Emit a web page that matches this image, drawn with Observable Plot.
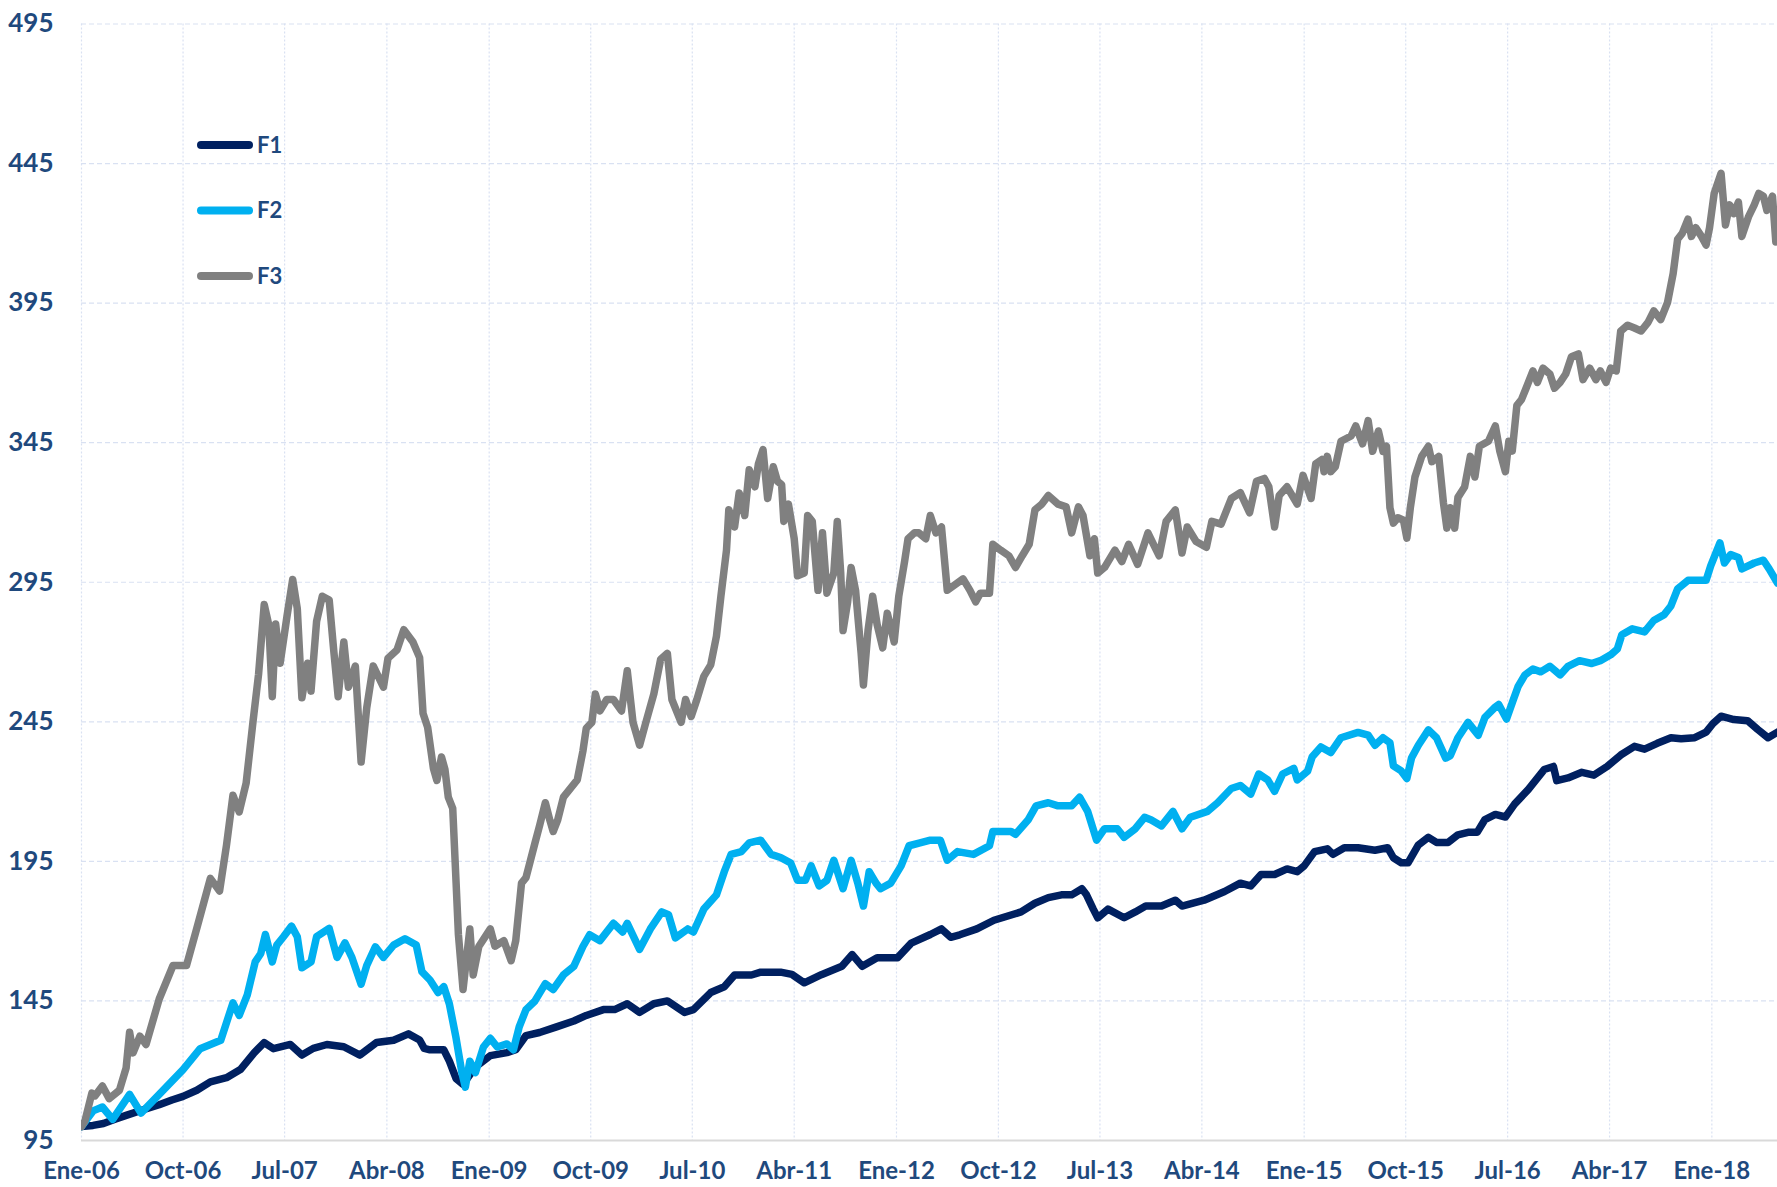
<!DOCTYPE html>
<html><head><meta charset="utf-8">
<script src="https://cdn.jsdelivr.net/npm/d3@7"></script>
<script src="https://cdn.jsdelivr.net/npm/@observablehq/plot@0.6"></script>
<style>
html,body{margin:0;padding:0;background:#fff;}
#chart{position:relative;width:1777px;height:1187px;overflow:hidden;}
</style></head><body><div id="chart"></div>
<script>
const seriesNames = ["F1", "F2", "F3"];
const seriesColors = ["#002060", "#00B0F0", "#808080"];
const xTickLabels = ["Ene-06","Oct-06","Jul-07","Abr-08","Ene-09","Oct-09","Jul-10","Abr-11","Ene-12","Oct-12","Jul-13","Abr-14","Ene-15","Oct-15","Jul-16","Abr-17","Ene-18"];
const yTicks = [95, 145, 195, 245, 295, 345, 395, 445, 495];

// [months since Jan 2006, value]
const f1Points = [[0,100],[1,100.4],[2,101.1],[3,102.6],[4,104],[5.5,106],[6.9,107.8],[8,109.5],[9,110.8],[10.2,113],[11.4,116],[12.8,117.5],[14.1,120.4],[15.3,126.4],[16.2,130.1],[17,127.9],[18.5,129.4],[19.5,125.6],[20.5,128],[21.7,129.4],[23.2,128.6],[24.6,125.6],[26.1,130.1],[27.6,130.9],[28.9,133.2],[29.9,131],[30.3,128],[30.8,127.5],[32,127.5],[32.5,123.4],[33.1,117.2],[33.7,115.1],[34.8,121.3],[36.1,125.4],[37.6,126.5],[38.4,127.5],[39.3,132.6],[40.5,133.7],[42,135.7],[43.5,137.8],[44.6,139.8],[46.1,141.9],[47.1,141.9],[48.2,144],[49.3,140.9],[50.6,144],[51.8,145],[53.3,140.9],[54.1,141.9],[55.6,148],[56.8,150.1],[57.7,154.3],[59.2,154.3],[60,155.3],[61.8,155.3],[62.8,154.5],[63.9,151.5],[65.4,154.4],[67.2,157.4],[68.1,161.6],[69,157.4],[70.3,160.5],[72.1,160.5],[73.3,165.7],[75,168.8],[76,170.8],[76.8,167.8],[77.6,168.7],[79.1,170.8],[80.6,173.9],[83,176.9],[84.2,180],[85.4,182],[86.6,183],[87.5,183],[88.4,185.2],[88.8,183],[89.4,177.9],[89.8,174.8],[90.7,177.9],[92.1,174.8],[93.1,176.9],[94,179],[95.4,179],[96.6,181.1],[97.2,179],[99.2,181.1],[101,184.2],[102.4,187.2],[103.3,186.2],[104.2,190.3],[105.4,190.3],[106.5,192.3],[107.4,191.3],[108,193.4],[108.9,198.5],[110.1,199.5],[110.6,197.5],[111.6,199.9],[112.8,199.9],[114.3,199],[115.4,199.9],[115.9,196.3],[116.6,194.5],[117.2,194.5],[118.1,200.9],[119,203.6],[119.7,201.8],[120.7,201.8],[121.6,204.5],[122.5,205.4],[123.3,205.4],[124,210],[124.9,211.8],[125.8,210.9],[126.6,215.5],[127.8,220.8],[129.2,227.9],[130,229],[130.3,223.9],[131.3,224.9],[132.5,226.9],[133.6,225.9],[134.8,229],[136,233.1],[137.2,236.2],[138.1,235.2],[139.2,237.3],[140.4,239.3],[141.3,238.9],[142.5,239.3],[143.5,241.3],[144.1,244.4],[144.8,247],[146,245.8],[147.2,245.4],[148.1,242.3],[149,239.3],[149.85,241.3]];

const f2Points = [[0,100],[1.0,105.6],[1.9,107],[2.8,102.6],[4.3,111.5],[5.3,104.8],[6.9,111.5],[9.0,120.4],[10.5,127.9],[12.3,130.9],[13.4,144.3],[14.0,139.8],[14.7,147.2],[15.4,159],[15.9,162],[16.3,168.8],[16.9,159],[17.3,165],[17.9,168],[18.6,171.8],[19.1,168],[19.5,156.9],[20.3,159],[20.8,168],[21.9,171],[22.6,160.6],[23.3,165.8],[23.9,160.6],[24.7,151],[25.2,157.7],[26.0,164.4],[26.7,160.6],[27.6,165],[28.6,167.3],[29.6,165],[30.1,155.5],[30.8,152.5],[31.5,148],[32.0,150.1],[32.5,143.9],[33.1,131.6],[33.6,119.3],[33.9,114.1],[34.3,123.4],[34.8,119.3],[35.5,128.5],[36.1,131.6],[36.7,128.5],[37.6,129.6],[38.2,127.5],[38.7,135.7],[39.3,141.9],[40.1,145],[41.0,151.2],[41.7,149.1],[42.6,154.3],[43.5,157.4],[44.3,164.5],[44.9,168.7],[45.8,166.6],[47.0,172.8],[47.8,169.7],[48.2,172.8],[49.3,163.5],[50.3,170.8],[51.3,176.9],[51.9,175.9],[52.5,167.6],[53.6,170.8],[54.1,169.7],[55.0,177.9],[56.1,183],[56.8,191.3],[57.4,197.5],[58.3,198.5],[59.0,201.6],[60.0,202.6],[60.9,197.5],[61.8,196.4],[62.7,194.4],[63.3,188.2],[64.0,188.2],[64.5,193.4],[65.2,186.2],[65.9,188.2],[66.5,195.4],[67.3,185.2],[68.0,195.4],[68.6,187.2],[69.1,179],[69.6,191.3],[70.2,187.2],[70.6,185.2],[71.5,187.2],[72.4,193.4],[73.1,200.6],[74.1,201.6],[75.0,202.6],[75.9,202.6],[76.5,195.4],[77.4,198.5],[78.8,197.5],[80.2,200.6],[80.5,205.7],[82.1,205.7],[82.5,204.7],[83.6,209.8],[84.3,214.9],[85.4,216],[86.3,214.9],[87.5,214.9],[88.2,218],[88.9,212.9],[89.7,202.6],[90.4,206.7],[91.5,206.7],[92.1,203.6],[93.1,206.7],[93.9,210.8],[94.5,209.8],[95.4,207.7],[96.4,212.9],[97.2,206.7],[98.0,210.8],[99.5,212.9],[100.4,216],[101.6,221.1],[102.4,222.2],[103.3,219.1],[104.0,226.3],[104.8,224.2],[105.4,220.1],[106.1,226.3],[107.1,228.3],[107.4,224.2],[108.3,227.3],[108.7,232.5],[109.5,236],[110.4,234],[111.3,239.3],[112.8,241.2],[113.7,240.2],[114.3,236.6],[115.0,239.3],[115.6,237.5],[115.9,229.2],[116.6,227.4],[117.1,224.7],[117.5,232],[118.1,236.6],[119.0,242.1],[119.7,239.3],[120.5,232],[120.9,232.9],[121.6,239.3],[122.5,244.8],[123.4,240.2],[124.0,246.6],[124.9,250.3],[125.2,251.2],[125.9,246],[126.5,253],[126.9,257.6],[127.5,261.8],[128.2,263.9],[128.9,262.9],[129.7,264.9],[130.6,261.8],[131.3,264.9],[132.3,266.9],[133.4,265.9],[134.2,266.9],[135.1,269],[135.7,271.1],[136.1,276.2],[137.0,278.3],[138.1,277.2],[138.9,281.3],[139.8,283.4],[140.4,286.5],[141.0,292.6],[141.9,295.7],[142.8,295.7],[143.5,295.7],[143.9,300.9],[144.7,309.1],[145.1,301.9],[145.7,304.9],[146.4,303.9],[146.7,299.8],[147.8,301.9],[148.6,302.9],[149.1,299.8],[149.85,294.7]];

const f3Points = [[0,100],[0.3,102],[0.9,112],[1.2,111],[1.9,114.5],[2.5,110],[3.4,113],[4.0,121],[4.3,133.8],[4.6,126.4],[5.2,132.4],[5.75,129.4],[6.9,145.7],[8.1,157.7],[9.3,157.7],[10.2,171],[11.4,188.9],[12.2,184.4],[12.8,200.8],[13.4,218.7],[14.0,212.7],[14.6,223],[15.2,245],[15.7,262],[16.2,287],[16.6,279.7],[16.9,254],[17.2,280],[17.6,266],[18.2,282.6],[18.7,296],[19.1,285.6],[19.5,253.6],[20.0,266],[20.3,256],[20.8,281],[21.3,290],[21.9,288.6],[22.3,270.7],[22.7,254],[23.2,273.6],[23.6,257.4],[24.2,265],[24.7,230.6],[25.2,250],[25.8,265],[26.7,257.4],[27.1,267.8],[27.9,270.7],[28.5,278],[29.3,273.6],[29.9,268],[30.2,248],[30.6,243],[31.1,228.3],[31.4,224],[31.8,232.4],[32.1,228],[32.4,218],[32.8,214],[33.1,187.2],[33.3,168.7],[33.7,149.1],[34.3,170.8],[34.6,154.3],[35.1,164.5],[36.1,170.8],[36.5,164.6],[37.3,166.6],[38.0,159.4],[38.4,166.6],[38.9,187.2],[39.3,189.2],[40.1,201.6],[40.5,207.8],[41.0,216],[41.4,209.8],[41.7,205.7],[42.1,209.8],[42.6,218],[43.0,220.1],[43.8,224.2],[44.3,234.5],[44.6,242.7],[45.1,244.8],[45.4,255],[45.8,248.9],[46.4,253],[47.0,253],[47.7,248.9],[48.2,263.3],[48.7,244.8],[49.3,236.6],[49.9,244.8],[50.6,255],[51.2,267.4],[51.8,269.5],[52.2,253],[53.0,244.8],[53.4,253],[53.9,246.9],[54.4,253],[55.0,261.3],[55.6,265.4],[56.1,275.7],[56.5,290],[57.0,306.5],[57.2,321],[57.7,314.8],[58.1,327],[58.6,318.9],[59.0,335.3],[59.5,329.2],[59.8,337.4],[60.2,342.5],[60.6,325],[61.1,336.4],[61.5,331.2],[61.9,330],[62.1,316.8],[62.5,323],[63.0,310.6],[63.3,297.3],[63.9,298.3],[64.2,318.9],[64.6,316.8],[65.1,292.1],[65.5,312.7],[65.9,291.1],[66.5,298.3],[66.8,316.8],[67.1,298.3],[67.3,277.7],[67.7,288],[68.0,300.3],[68.4,292.1],[68.9,269.5],[69.1,258.2],[69.5,277.7],[69.9,290],[70.3,279.8],[70.8,271.5],[71.2,283.9],[71.8,273.6],[72.2,290],[72.7,302.4],[73.0,310.6],[73.6,312.7],[74.0,312.7],[74.6,310.6],[75.0,318.9],[75.5,312.7],[76.0,314.8],[76.5,292.1],[77.2,294.2],[77.9,296.2],[78.5,292.1],[79.0,288],[79.4,291.1],[80.2,291.1],[80.5,308.6],[81.2,306.5],[81.9,304.5],[82.5,300.3],[83.1,304.5],[83.7,308.6],[84.2,320.9],[84.8,323],[85.4,326.1],[86.3,323],[87.0,322],[87.5,312.7],[88.1,322],[88.5,318.9],[89.1,304.5],[89.5,310.6],[89.8,298.3],[90.4,300.3],[91.3,306.5],[91.9,302.4],[92.5,308.6],[93.3,301.4],[94.2,312.7],[94.7,308.6],[95.2,304.5],[95.8,316.8],[96.6,320.9],[97.2,305.5],[97.7,314.8],[98.5,309.6],[99.4,307.5],[99.9,316.8],[100.7,315.8],[101.6,325],[102.4,327.1],[103.2,319.9],[103.8,331.2],[104.5,332.2],[104.9,329.2],[105.4,314.8],[105.8,326.1],[106.5,329.2],[107.4,323],[107.9,333.3],[108.6,325],[109.0,337.4],[109.6,339],[109.8,334.6],[110.1,340.1],[110.4,334.6],[110.8,336.4],[111.3,345.5],[112.2,347.4],[112.6,351],[113.2,344.6],[113.7,352.9],[114.1,341.9],[114.6,349.2],[115.0,341.9],[115.3,343.7],[115.6,321.7],[115.9,316.2],[116.3,318.1],[116.8,317.2],[117.1,310.8],[117.4,321.7],[117.8,332.7],[118.4,340.1],[119.0,343.7],[119.3,338.2],[119.9,340.1],[120.3,323.6],[120.6,314.4],[120.9,321.7],[121.3,314.4],[121.6,325.4],[122.2,329.1],[122.7,340.1],[123.1,332.7],[123.5,343.7],[124.3,345.5],[124.9,351],[125.3,341.9],[125.8,334.6],[126.1,345.5],[126.4,342],[126.8,358.4],[127.2,360.4],[127.6,364.5],[128.2,370.7],[128.6,366.6],[129.1,371.7],[129.7,369.6],[130.1,364.5],[130.6,366.6],[131.1,369.6],[131.6,375.8],[132.2,376.8],[132.6,367.6],[133.2,371.7],[133.8,367.6],[134.2,370.7],[134.7,366.6],[135.1,371.7],[135.6,370.7],[136.0,385],[136.6,387.1],[137.2,386.1],[137.8,385],[138.4,388.1],[138.9,392.2],[139.5,389.1],[140.1,395.3],[140.6,405.6],[141.0,417.9],[141.4,420],[141.9,425.1],[142.2,418.9],[142.6,422],[143.1,418.9],[143.5,415.8],[143.8,422],[144.2,434.3],[144.8,441.5],[145.2,423],[145.6,430.2],[146.0,427.1],[146.4,431.2],[146.7,418.9],[147.3,426.1],[147.8,430.2],[148.2,434.3],[148.6,433.3],[148.9,428.2],[149.4,433.3],[149.7,416.9],[149.85,418]];

const startDate = new Date(Date.UTC(2006, 0, 1));
function monthToDate(m) {
  const i = Math.floor(m), f = m - i;
  const a = d3.utcMonth.offset(startDate, i), b = d3.utcMonth.offset(startDate, i + 1);
  return new Date(+a + f * (b - a));
}
const lastMonth = 149.85;
const rows = [];
[f1Points, f2Points, f3Points].forEach((pts, k) => {
  pts.forEach(([m, v]) => rows.push({series: seriesNames[k], date: monthToDate(m), value: v}));
});
const xTickDates = xTickLabels.map((_, i) => monthToDate(i * 9));
const labelByTime = new Map(xTickDates.map((d, i) => [+d, xTickLabels[i]]));
const textColor = "#1F497D";
const gridColor = "#D9E1F2";

const chart = Plot.plot({
  width: 1777, height: 1187,
  marginTop: 23.5, marginBottom: 47, marginLeft: 81, marginRight: 0,
  style: {fontFamily: "Lato, sans-serif", background: "#fff"},
  x: {type: "utc", domain: [monthToDate(0), monthToDate(lastMonth)], label: null},
  y: {domain: [95, 495], label: null},
  color: {domain: seriesNames, range: seriesColors},
  marks: [
    Plot.gridY({ticks: yTicks, stroke: gridColor, strokeOpacity: 1, strokeWidth: 1.2, strokeDasharray: "5,3"}),
    Plot.gridX({ticks: xTickDates, stroke: gridColor, strokeOpacity: 1, strokeWidth: 1.2, strokeDasharray: "2,2"}),
    Plot.ruleY([95], {stroke: "#D9D9D9", strokeWidth: 2}),
    Plot.axisY({ticks: yTicks, tickSize: 0, tickPadding: 28, label: null, tickFormat: d => String(d), fontSize: 26, fontWeight: "bold", fill: textColor}),
    Plot.axisX({ticks: xTickDates, tickSize: 0, tickPadding: 21, label: null, tickFormat: d => labelByTime.get(+d), fontSize: 24, fontWeight: "bold", fill: textColor}),
    Plot.line(rows, {x: "date", y: "value", z: "series", stroke: "series", strokeWidth: 7.5, strokeLinejoin: "round", strokeLinecap: "round", clip: true})
  ]
});
document.getElementById("chart").appendChild(chart);

// legend inside the frame
const svg = d3.select(chart);
const lg = svg.append("g");
seriesNames.forEach((n, i) => {
  const y = 145 + i * 65.5;
  lg.append("line").attr("x1", 201).attr("x2", 249).attr("y1", y).attr("y2", y)
    .attr("stroke", seriesColors[i]).attr("stroke-width", 8).attr("stroke-linecap", "round");
  lg.append("text").attr("x", 257).attr("y", y).attr("dy", "0.36em")
    .attr("text-anchor", "start")
    .style("font-family", "Lato, sans-serif").style("font-weight", "bold").style("font-size", "22px")
    .attr("fill", textColor).text(n);
});
</script></body></html>
